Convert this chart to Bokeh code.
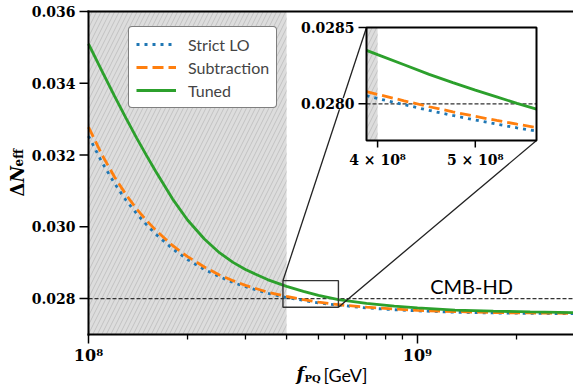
import math
import numpy as np
from bokeh.plotting import figure
from bokeh.models import Range1d, LogScale, Legend, LegendItem, Label
from bokeh.embed import file_html
from bokeh.resources import INLINE

# ---------------- data ----------------
f_pq = [1.0e8, 1.1e8, 1.2e8, 1.3e8, 1.4e8, 1.5e8, 1.6e8, 1.8e8, 2.0e8, 2.25e8, 2.5e8,
        2.75e8, 3.0e8, 3.5e8, 4.0e8, 4.5e8, 5.0e8, 5.75e8, 7.0e8, 8.5e8, 1.0e9, 1.3e9,
        1.7e9, 2.2e9, 3.0e9]
strict_lo = [0.03253, 0.03179, 0.03121, 0.03074, 0.03037, 0.03006, 0.02980, 0.02939,
             0.02909, 0.02881, 0.02861, 0.02845, 0.02833, 0.02815, 0.02803, 0.02795,
             0.02788, 0.02782, 0.02774, 0.02769, 0.02766, 0.02762, 0.02760, 0.02759, 0.02758]
subtraction = [0.03278, 0.03200, 0.03139, 0.03090, 0.03050, 0.03018, 0.02991, 0.02948,
               0.02917, 0.02888, 0.02866, 0.02850, 0.02837, 0.02818, 0.02806, 0.02797,
               0.02790, 0.02783, 0.02776, 0.02771, 0.02767, 0.02764, 0.02761, 0.02760, 0.02759]
tuned = [0.03510, 0.03433, 0.03364, 0.03303, 0.03248, 0.03199, 0.03155, 0.03078,
         0.03019, 0.02966, 0.02928, 0.02901, 0.02881, 0.02853, 0.02834, 0.02820,
         0.02809, 0.02797, 0.02787, 0.02779, 0.02774, 0.02768, 0.02765, 0.02763, 0.02761]

inset_f = [3.9e8, 4.0e8, 4.25e8, 4.5e8, 4.75e8, 5.0e8, 5.25e8, 5.5e8, 5.75e8]
inset_strict_lo = [0.028053, 0.028035, 0.027995, 0.027957, 0.027924, 0.027894, 0.027867, 0.027843, 0.027821]
inset_subtraction = [0.028080, 0.028062, 0.028020, 0.027981, 0.027948, 0.027918, 0.027891, 0.027867, 0.027845]
inset_tuned = [0.028350, 0.028322, 0.028256, 0.028193, 0.028139, 0.028090, 0.028046, 0.028003, 0.027965]

series_names = ["Strict LO", "Subtraction", "Tuned"]
series_colors = ["#1f77b4", "#ff7f0e", "#2ca02c"]

cmb_hd = 0.028
cmb_hd_label = "CMB-HD"
excluded = [1.0e8, 4.0e8]

x_major = [1e8, 1e9]
x_tick_labels = ["10⁸", "10⁹"]
x_minor = [2e8, 3e8, 4e8, 5e8, 6e8, 7e8, 8e8, 9e8, 2e9]
y_ticks = [0.028, 0.030, 0.032, 0.034, 0.036]
y_tick_labels = ["0.028", "0.030", "0.032", "0.034", "0.036"]

zoom_x = [3.9e8, 5.75e8]
zoom_y = [0.02776, 0.0285]
inset_xticks = [4e8, 5e8]
inset_xtick_labels = ["4 × 10⁸", "5 × 10⁸"]
inset_yticks = [0.0280, 0.0285]
inset_ytick_labels = ["0.0280", "0.0285"]

# ---------------- layout (canvas pixels) ----------------
W, H = 573, 386
ML, MT, MB = 88, 11, 52            # main plot box margins
PW, PH = W - ML, H - MT - MB
X0, X1 = 1e8, 2.98e9
Y0, Y1 = 0.027, 0.036
IL, IR, IT, IB = 366, 536, 27, 140  # inset box

lX0, lX1 = math.log10(X0), math.log10(X1)
kx = (lX1 - lX0) / PW
ky = (Y1 - Y0) / PH

def main_x(px):
    return 10 ** (lX0 + (px - ML) * kx)

def main_y(py):
    return Y1 - (py - MT) * ky

lx0, lx1 = math.log10(zoom_x[0]), math.log10(zoom_x[1])
dlx = (lx1 - lx0) / (IR - IL)
dy = (zoom_y[1] - zoom_y[0]) / (IB - IT)

p = figure(width=W, height=H, x_axis_type="log", x_axis_location=None, y_axis_location=None,
           x_range=Range1d(main_x(0), main_x(W)), y_range=Range1d(main_y(H), main_y(0)),
           output_backend="svg", toolbar_location=None,
           min_border_left=0, min_border_right=0, min_border_top=0, min_border_bottom=0,
           background_fill_color="white", border_fill_color="white")
p.outline_line_color = None
for g in p.grid:
    g.visible = False

p.extra_x_ranges = {"ix": Range1d(10 ** (lx0 - IL * dlx), 10 ** (lx0 + (W - IL) * dlx))}
p.extra_x_scales = {"ix": LogScale()}
p.extra_y_ranges = {"iy": Range1d(zoom_y[0] - (H - IB) * dy, zoom_y[1] + IT * dy)}

SERIF = "DejaVu Serif"
SANS = "Lato"
TXT = dict(text_color="black")

HATCH = dict(fill_color="#dddddd", line_color=None, hatch_pattern="/",
             hatch_color="#c2c2c2", hatch_scale=9, hatch_weight=1)

# shaded excluded region
p.quad(left=excluded[0], right=excluded[1], bottom=Y0, top=Y1, **HATCH)
# CMB-HD line
p.line([X0, X1], [cmb_hd, cmb_hd], line_color="#333333", line_width=1.3, line_dash="4 2")

styles = [dict(line_dash="3 5"), dict(line_dash="11 5"), dict()]
main_vals = [strict_lo, subtraction, tuned]
inset_vals = [inset_strict_lo, inset_subtraction, inset_tuned]
items = []
for name, col, st, vals in zip(series_names, series_colors, styles, main_vals):
    r = p.line(f_pq, vals, line_color=col, line_width=2.8, **st)
    items.append(LegendItem(label=name, renderers=[r]))

# ---------------- axes: spines, ticks, tick labels ----------------
p.segment(x0=[X0, X0, X0], y0=[Y0, Y0, Y1], x1=[X0, X1, X1], y1=[Y1, Y0, Y1],
          line_color="black", line_width=2, line_cap="square")
p.ray(x=[X0] * len(y_ticks), y=y_ticks, length=9, length_units="screen", angle=np.pi,
      line_color="black", line_width=1.5)
p.ray(x=x_major, y=[Y0] * len(x_major), length=9, length_units="screen", angle=-np.pi / 2,
      line_color="black", line_width=1.5)
p.ray(x=x_minor, y=[Y0] * len(x_minor), length=5, length_units="screen", angle=-np.pi / 2,
      line_color="black", line_width=1.3)
for t, lab in zip(y_ticks, y_tick_labels):
    p.add_layout(Label(x=X0, y=t, text=lab, x_offset=-13, text_align="right",
                       text_baseline="middle", text_font=SERIF, text_font_style="bold",
                       text_font_size="14px", **TXT))
for t, lab in zip(x_major, x_tick_labels):
    p.add_layout(Label(x=t, y=main_y(H - MB + 11), text=lab, text_align="center",
                       text_baseline="top", text_font=SERIF, text_font_style="bold",
                       text_font_size="16px", **TXT))

# ---------------- zoom rectangle + connectors ----------------
p.quad(left=zoom_x[0], right=zoom_x[1], bottom=zoom_y[0], top=zoom_y[1],
       fill_color=None, line_color="#333333", line_width=1.4)
p.segment(x0=[zoom_x[0], zoom_x[1]], y0=[zoom_y[1], zoom_y[0]],
          x1=[main_x(IL), main_x(IR)], y1=[main_y(IT), main_y(IB)],
          line_color="#222222", line_width=1.3)

# ---------------- inset ----------------
INS = dict(x_range_name="ix", y_range_name="iy")
p.quad(left=zoom_x[0], right=zoom_x[1], bottom=zoom_y[0], top=zoom_y[1],
       fill_color="white", line_color=None, **INS)
p.quad(left=zoom_x[0], right=excluded[1], bottom=zoom_y[0], top=zoom_y[1], **HATCH, **INS)
p.line(zoom_x, [cmb_hd, cmb_hd], line_color="#333333", line_width=1.3, line_dash="4 2", **INS)
for col, st, vals in zip(series_colors, styles, inset_vals):
    p.line(inset_f, vals, line_color=col, line_width=2.8, **st, **INS)
p.quad(left=zoom_x[0], right=zoom_x[1], bottom=zoom_y[0], top=zoom_y[1],
       fill_color=None, line_color="black", line_width=2, **INS)
p.ray(x=[zoom_x[0]] * len(inset_yticks), y=inset_yticks, length=8, length_units="screen",
      angle=np.pi, line_color="black", line_width=1.5, **INS)
p.ray(x=inset_xticks, y=[zoom_y[0]] * len(inset_xticks), length=7, length_units="screen",
      angle=-np.pi / 2, line_color="black", line_width=1.5, **INS)
for t, lab in zip(inset_yticks, inset_ytick_labels):
    p.add_layout(Label(x=zoom_x[0], y=t, text=lab, x_offset=-12, text_align="right",
                       text_baseline="middle", text_font=SERIF, text_font_style="bold",
                       text_font_size="14px", background_fill_color="white", **TXT, **INS))
for t, lab in zip(inset_xticks, inset_xtick_labels):
    p.add_layout(Label(x=t, y=zoom_y[0] - 11 * dy, text=lab, text_align="center",
                       text_baseline="top", text_font=SERIF, text_font_style="bold",
                       text_font_size="14px", **TXT, **INS))

# CMB-HD label (centre of its capitals ~12 px above the line)
p.add_layout(Label(x=1.46e9, y=cmb_hd + 12.5 * ky, text=cmb_hd_label, text_align="center",
                   text_baseline="middle", text_font=SANS, text_font_size="20px", **TXT))

# ---------------- axis titles (screen px from the canvas' bottom-left) ----------------
ylab = [("Δ", "bold", "18px", 17, 190), ("N", "bold italic", "18px", 17, 204),
        ("eff", "bold", "12px", 18, 220)]
for txt, style, size, px, py in ylab:
    p.add_layout(Label(x=px, y=py, x_units="screen", y_units="screen", text=txt,
                       angle=math.pi / 2, text_align="left", text_baseline="middle",
                       text_font=SERIF, text_font_style=style, text_font_size=size, **TXT))

xlab = [("f", SERIF, "bold italic", "18px", 296, 13),
        ("PQ", SERIF, "bold", "10px", 304, 8),
        ("[GeV]", SANS, "normal", "18px", 323, 12)]
for txt, font, style, size, px, py in xlab:
    p.add_layout(Label(x=px, y=py, x_units="screen", y_units="screen", text=txt,
                       text_align="left", text_baseline="middle", text_font=font,
                       text_font_style=style, text_font_size=size, **TXT))

# ---------------- legend ----------------
LEG_PAD, LEG_ROW, LEG_SP = 7, 20, 3
legend = Legend(items=items)
legend.label_text_font = SANS
legend.label_text_font_size = "16px"
legend.glyph_width = 40
legend.glyph_height = LEG_ROW
legend.label_height = LEG_ROW
legend.spacing = LEG_SP
legend.padding = LEG_PAD
legend.label_standoff = 12
legend.margin = 0
legend.border_line_color = "black"
legend.border_line_width = 1.5
legend.background_fill_color = "white"
legend.background_fill_alpha = 1.0
if "border_radius" in Legend.properties():
    legend.border_radius = 4
leg_h = 2 * LEG_PAD + 3 * LEG_ROW + 2 * LEG_SP + 3
legend.location = (128, H - 25 - leg_h)
p.add_layout(legend)

open("out.html", "w").write(file_html(p, INLINE))
